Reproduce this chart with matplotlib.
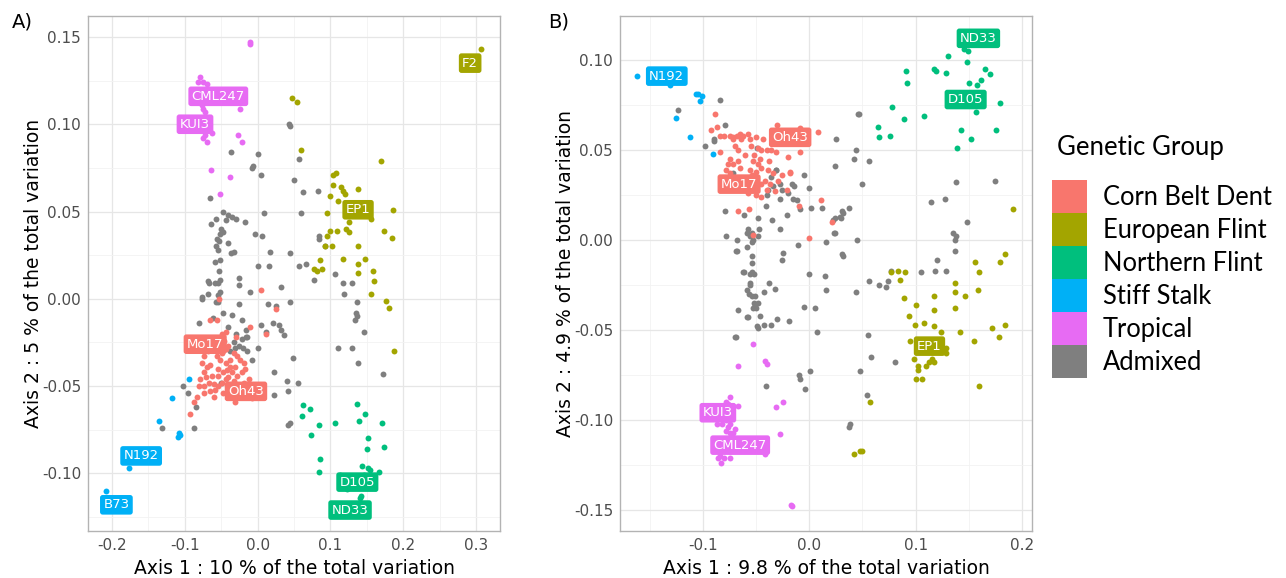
import matplotlib
matplotlib.use("Agg")
import matplotlib.pyplot as plt
from matplotlib.patches import Patch
import numpy as np

groups = ["Corn Belt Dent", "European Flint", "Northern Flint", "Stiff Stalk", "Tropical", "Admixed"]
colors = ["#F8766D", "#A3A500", "#00BF7D", "#00B0F6", "#E76BF3", "#7F7F7F"]

# ---------------- panel A data ----------------
a_cbd = [(0.005, 0.005), (0.025, -0.006), (-0.053, 0.000), (-0.066, -0.012), (-0.056, -0.012),
         (-0.010, -0.016), (0.012, -0.020), (-0.049, -0.020), (-0.044, -0.019),
         (-0.074, -0.033), (-0.077, -0.037), (-0.070, -0.039), (-0.065, -0.038), (-0.074, -0.042),
         (-0.079, -0.046), (-0.071, -0.045), (-0.067, -0.048), (-0.081, -0.050), (-0.074, -0.050),
         (-0.060, -0.049), (-0.065, -0.053), (-0.058, -0.052), (-0.054, -0.050), (-0.049, -0.048),
         (-0.054, -0.044), (-0.047, -0.042), (-0.042, -0.041), (-0.038, -0.039), (-0.044, -0.037),
         (-0.051, -0.035), (-0.056, -0.033), (-0.049, -0.031), (-0.044, -0.029), (-0.040, -0.027),
         (-0.033, -0.031), (-0.028, -0.033), (-0.024, -0.035), (-0.019, -0.037), (-0.031, -0.039),
         (-0.035, -0.042), (-0.028, -0.044), (-0.022, -0.042), (-0.040, -0.045), (-0.044, -0.046),
         (-0.033, -0.047), (-0.028, -0.050), (-0.019, -0.048), (-0.012, -0.046), (-0.005, -0.050),
         (-0.008, -0.057), (-0.031, -0.059), (-0.083, -0.056), (-0.088, -0.059), (-0.093, -0.066),
         (-0.038, -0.035), (-0.074, -0.054), (-0.060, -0.056), (-0.046, -0.024), (-0.052, -0.026),
         (-0.036, -0.052), (-0.016, -0.053), (-0.002, -0.054), (-0.024, -0.055), (-0.062, -0.044),
         (-0.055, -0.040), (-0.048, -0.054), (-0.068, -0.030), (-0.030, -0.022), (-0.017, -0.040)]
a_european = [(0.307, 0.143), (0.047, 0.115), (0.054, 0.113), (0.060, 0.085), (0.170, 0.079),
              (0.104, 0.071), (0.108, 0.072), (0.104, 0.065), (0.115, 0.064), (0.118, 0.062),
              (0.120, 0.060), (0.138, 0.063), (0.100, 0.059), (0.110, 0.056), (0.096, 0.049),
              (0.186, 0.051), (0.156, 0.046), (0.126, 0.044), (0.099, 0.039), (0.096, 0.036),
              (0.109, 0.039), (0.122, 0.040), (0.126, 0.038), (0.174, 0.039), (0.185, 0.035),
              (0.093, 0.030), (0.102, 0.030), (0.138, 0.030), (0.118, 0.023), (0.148, 0.023),
              (0.138, 0.020), (0.138, 0.015), (0.158, 0.016), (0.160, 0.010), (0.156, 0.003),
              (0.177, -0.001), (0.181, -0.005), (0.188, -0.030), (0.077, 0.017), (0.081, 0.016),
              (0.088, 0.017), (0.086, 0.022)]
a_northern = [(0.063, -0.061), (0.072, -0.063), (0.061, -0.067), (0.085, -0.072), (0.074, -0.078),
              (0.107, -0.071), (0.136, -0.060), (0.148, -0.066), (0.139, -0.070), (0.171, -0.071),
              (0.151, -0.080), (0.150, -0.086), (0.174, -0.085), (0.086, -0.092), (0.085, -0.099),
              (0.144, -0.096), (0.152, -0.097), (0.155, -0.098), (0.167, -0.099), (0.113, -0.101),
              (0.123, -0.109), (0.140, -0.114), (0.142, -0.113), (0.130, -0.104), (0.146, -0.101)]
a_stiff = [(-0.094, -0.046), (-0.117, -0.057), (-0.135, -0.070), (-0.108, -0.077), (-0.107, -0.078),
           (-0.110, -0.079), (-0.177, -0.097), (-0.208, -0.110)]
a_tropical = [(-0.010, 0.147), (-0.010, 0.146), (-0.079, 0.127), (-0.075, 0.124), (-0.070, 0.123),
              (-0.082, 0.124), (-0.024, 0.109), (-0.075, 0.109), (-0.072, 0.107), (-0.077, 0.111),
              (-0.072, 0.094), (-0.069, 0.090), (-0.075, 0.092), (-0.063, 0.095), (-0.027, 0.094),
              (-0.021, 0.090), (-0.064, 0.074), (-0.038, 0.070), (-0.052, 0.060)]
a_admixed = [(0.043, 0.100), (0.044, 0.099), (-0.037, 0.084), (0.000, 0.083), (-0.006, 0.076),
             (-0.008, 0.075), (0.004, 0.071), (0.057, 0.080), (0.050, 0.068), (0.062, 0.061),
             (0.083, 0.062), (-0.066, 0.058), (0.009, 0.049), (0.059, 0.049), (-0.047, 0.050),
             (-0.041, 0.048), (-0.035, 0.047), (-0.029, 0.046), (-0.017, 0.044), (-0.064, 0.043),
             (-0.057, 0.046), (-0.044, 0.045), (-0.050, 0.040), (-0.048, 0.038), (-0.051, 0.037),
             (-0.056, 0.034), (-0.053, 0.033), (-0.057, 0.030), (-0.040, 0.032), (-0.033, 0.027),
             (-0.036, 0.026), (-0.055, 0.028), (-0.058, 0.021), (-0.051, 0.022), (-0.053, 0.016),
             (-0.052, 0.011), (-0.067, 0.009), (-0.058, 0.009), (-0.051, 0.004), (-0.054, 0.002),
             (-0.068, 0.003), (-0.077, 0.001), (-0.057, -0.002), (-0.055, -0.002), (-0.047, -0.008),
             (-0.035, -0.009), (-0.026, -0.003), (-0.022, -0.012), (-0.041, -0.016), (-0.061, -0.011),
             (-0.080, -0.014), (-0.025, 0.012), (-0.025, 0.008), (-0.011, 0.004), (-0.003, 0.037),
             (0.006, 0.036), (0.017, 0.027), (0.045, 0.026), (0.001, 0.019), (0.016, 0.019),
             (0.057, 0.019), (0.066, 0.020), (0.107, 0.014), (0.078, 0.011), (0.032, 0.007),
             (0.045, -0.002), (0.014, -0.003), (0.025, -0.004), (0.004, -0.015), (0.021, -0.014),
             (0.029, -0.015), (0.032, -0.018), (0.036, -0.021), (0.011, -0.019), (0.000, -0.028),
             (-0.008, -0.035), (-0.016, -0.022), (-0.022, -0.023), (-0.025, -0.027), (-0.031, -0.028),
             (-0.033, -0.025), (-0.015, -0.030), (0.049, -0.034), (0.023, -0.042), (0.040, -0.047),
             (0.055, -0.048), (0.042, -0.053), (0.023, -0.055), (-0.050, -0.048), (-0.103, -0.050),
             (-0.095, -0.054), (-0.084, -0.062), (0.111, -0.028), (0.084, 0.036), (0.085, 0.034),
             (0.093, 0.030), (0.117, 0.009), (0.119, 0.003), (0.129, 0.009), (0.136, -0.002),
             (0.135, -0.008), (0.137, -0.010), (0.134, -0.012), (0.146, -0.019), (0.129, -0.028),
             (0.138, -0.037), (0.172, -0.043), (0.042, -0.072), (0.045, -0.071), (-0.016, -0.018),
             (-0.015, -0.022), (-0.131, -0.074), (-0.087, -0.074), (-0.076, 0.000), (-0.068, 0.010),
             (-0.054, 0.009), (-0.030, -0.020), (-0.020, -0.028), (-0.038, -0.030)]
a_names = ["F2", "CML247", "KUI3", "EP1", "Mo17", "Oh43", "N192", "B73", "D105", "ND33"]
a_name_x = [0.292, -0.054, -0.086, 0.138, -0.072, -0.016, -0.160, -0.194, 0.137, 0.127]
a_name_y = [0.135, 0.116, 0.100, 0.051, -0.026, -0.053, -0.090, -0.118, -0.105, -0.121]
a_name_grp = [1, 4, 4, 1, 0, 0, 3, 3, 2, 2]

# ---------------- panel B data ----------------
b_cbd = [(-0.089, 0.070), (-0.087, 0.063), (-0.092, 0.061), (-0.084, 0.058), (-0.080, 0.058),
         (-0.075, 0.058), (-0.072, 0.057), (-0.068, 0.058), (-0.065, 0.059), (-0.062, 0.058),
         (-0.058, 0.059), (-0.056, 0.056), (-0.050, 0.057), (-0.044, 0.056), (-0.072, 0.056),
         (-0.064, 0.056), (-0.084, 0.049), (-0.067, 0.050), (-0.048, 0.051), (-0.045, 0.050),
         (-0.040, 0.050), (-0.036, 0.050), (-0.031, 0.049), (-0.030, 0.064), (-0.009, 0.062),
         (0.008, 0.060), (-0.009, 0.049), (-0.020, 0.046), (-0.075, 0.045), (-0.076, 0.042),
         (-0.072, 0.042), (-0.067, 0.044), (-0.065, 0.040), (-0.053, 0.044), (-0.046, 0.045),
         (-0.048, 0.042), (-0.045, 0.040), (-0.056, 0.039), (-0.054, 0.036), (-0.050, 0.038),
         (-0.039, 0.039), (-0.034, 0.037), (-0.026, 0.036), (-0.018, 0.037), (-0.029, 0.033),
         (-0.037, 0.031), (-0.045, 0.031), (-0.040, 0.028), (-0.050, 0.025), (-0.045, 0.024),
         (-0.032, 0.027), (-0.021, 0.028), (-0.010, 0.019), (0.011, 0.022), (0.021, 0.010),
         (0.000, 0.001), (-0.067, 0.016), (-0.057, 0.017), (-0.053, 0.003), (-0.042, 0.033),
         (-0.075, 0.037), (-0.078, 0.039), (-0.018, 0.038), (-0.060, 0.047), (-0.055, 0.052),
         (-0.062, 0.030), (-0.058, 0.026), (-0.070, 0.052), (-0.052, 0.047), (-0.038, 0.044)]
b_european = [(0.192, 0.017), (0.184, -0.008), (0.156, -0.012), (0.179, -0.012), (0.160, -0.018),
              (0.077, -0.018), (0.083, -0.017), (0.090, -0.018), (0.085, -0.022), (0.137, -0.024),
              (0.137, -0.029), (0.146, -0.031), (0.159, -0.028), (0.117, -0.031), (0.089, -0.032),
              (0.100, -0.036), (0.117, -0.039), (0.137, -0.038), (0.094, -0.042), (0.099, -0.047),
              (0.108, -0.046), (0.117, -0.048), (0.124, -0.051), (0.142, -0.051), (0.172, -0.049),
              (0.184, -0.047), (0.178, -0.054), (0.155, -0.056), (0.095, -0.056), (0.129, -0.060),
              (0.129, -0.063), (0.098, -0.066), (0.115, -0.066), (0.113, -0.068), (0.110, -0.070),
              (0.117, -0.068), (0.102, -0.070), (0.102, -0.072), (0.100, -0.077), (0.106, -0.077),
              (0.160, -0.081), (0.057, -0.090), (0.042, -0.119), (0.048, -0.117), (0.050, -0.117)]
b_northern = [(0.145, 0.106), (0.149, 0.105), (0.130, 0.102), (0.148, 0.099), (0.117, 0.095),
              (0.119, 0.094), (0.129, 0.093), (0.165, 0.095), (0.170, 0.092), (0.091, 0.094),
              (0.092, 0.087), (0.150, 0.087), (0.161, 0.089), (0.158, 0.086), (0.179, 0.076),
              (0.157, 0.071), (0.078, 0.074), (0.108, 0.069), (0.089, 0.067), (0.065, 0.063),
              (0.076, 0.058), (0.066, 0.057), (0.143, 0.061), (0.152, 0.056), (0.176, 0.061),
              (0.139, 0.051)]
b_stiff = [(-0.162, 0.091), (-0.131, 0.086), (-0.107, 0.081), (-0.105, 0.081), (-0.101, 0.080),
           (-0.103, 0.077), (-0.125, 0.068), (-0.112, 0.057), (-0.091, 0.048)]
b_tropical = [(-0.053, -0.058), (-0.067, -0.070), (-0.042, -0.067), (-0.040, -0.069), (-0.075, -0.087),
              (-0.078, -0.090), (-0.076, -0.091), (-0.067, -0.092), (-0.031, -0.093), (-0.025, -0.090),
              (-0.028, -0.108), (-0.078, -0.100), (-0.075, -0.102), (-0.076, -0.104), (-0.078, -0.106),
              (-0.075, -0.107), (-0.072, -0.107), (-0.082, -0.102), (-0.087, -0.102), (-0.070, -0.105),
              (-0.084, -0.120), (-0.083, -0.124), (-0.080, -0.121), (-0.075, -0.121), (-0.086, -0.121),
              (-0.042, -0.119), (-0.017, -0.147), (-0.016, -0.148)]
b_admixed = [(-0.084, 0.078), (-0.079, 0.064), (-0.090, 0.055), (-0.098, 0.052), (0.047, 0.070),
             (0.046, 0.070), (0.025, 0.056), (0.044, 0.050), (0.042, 0.045), (0.056, 0.044),
             (0.024, 0.041), (0.050, 0.031), (-0.005, 0.036), (0.000, 0.029), (-0.016, 0.031),
             (-0.014, 0.030), (-0.020, 0.026), (-0.015, 0.023), (-0.012, 0.022), (-0.031, 0.039),
             (-0.036, 0.035), (-0.028, 0.031), (-0.034, 0.030), (-0.039, 0.028), (-0.040, 0.025),
             (-0.026, 0.028), (-0.072, 0.037), (-0.028, 0.023), (-0.079, 0.016), (-0.061, 0.014),
             (-0.041, 0.019), (-0.048, 0.012), (-0.035, 0.011), (-0.021, 0.014), (-0.009, 0.017),
             (0.002, 0.018), (0.012, 0.018), (0.022, 0.011), (0.030, 0.012), (0.032, 0.015),
             (0.037, 0.018), (-0.028, 0.006), (-0.047, 0.006), (-0.058, 0.006), (-0.059, 0.004),
             (-0.054, 0.004), (-0.056, 0.002), (-0.048, 0.002), (-0.053, 0.000), (-0.054, -0.001),
             (-0.078, 0.002), (-0.068, 0.000), (-0.068, -0.006), (-0.059, -0.004), (-0.054, -0.009),
             (-0.054, -0.013), (-0.025, -0.007), (-0.026, -0.011), (-0.011, -0.003), (0.023, 0.004),
             (0.016, -0.001), (0.045, 0.000), (0.032, -0.009), (0.056, -0.023), (0.000, -0.019),
             (0.015, -0.020), (0.016, -0.028), (0.044, -0.029), (-0.061, -0.018), (-0.054, -0.018),
             (-0.052, -0.019), (-0.038, -0.024), (-0.056, -0.024), (-0.059, -0.028), (-0.057, -0.030),
             (-0.051, -0.031), (-0.043, -0.029), (-0.032, -0.027), (-0.048, -0.035), (-0.051, -0.036),
             (-0.053, -0.038), (-0.067, -0.039), (-0.058, -0.043), (-0.046, -0.042), (-0.036, -0.047),
             (-0.043, -0.047), (-0.048, -0.049), (-0.030, -0.044), (-0.019, -0.045), (-0.005, -0.037),
             (0.005, -0.038), (0.007, -0.051), (-0.069, -0.054), (0.055, -0.053), (-0.010, -0.075),
             (-0.009, -0.077), (0.001, -0.073), (0.048, -0.073), (0.138, 0.032), (0.175, 0.033),
             (0.114, 0.021), (0.128, 0.023), (0.148, 0.010), (0.135, 0.004), (0.138, 0.002),
             (0.137, 0.000), (0.137, -0.006), (0.120, -0.011), (0.024, 0.004), (0.031, -0.008),
             (0.024, 0.012), (0.029, 0.013), (0.031, 0.016), (0.066, -0.025), (0.072, -0.026),
             (0.074, -0.023), (0.077, -0.017), (0.105, -0.018), (0.118, -0.017), (0.129, -0.017),
             (0.058, -0.065), (0.081, -0.068), (-0.004, -0.083), (0.054, -0.086), (0.038, -0.102),
             (0.037, -0.104), (-0.123, 0.072), (-0.090, 0.056), (-0.049, 0.051), (-0.031, 0.039),
             (-0.069, -0.006), (-0.062, -0.018), (-0.056, -0.019), (-0.056, -0.025), (-0.054, -0.031),
             (-0.052, -0.035), (-0.050, -0.038), (-0.059, -0.043), (-0.049, -0.048), (-0.070, -0.054),
             (-0.041, -0.081)]
b_names = ["N192", "ND33", "D105", "Oh43", "Mo17", "EP1", "KUI3", "CML247"]
b_name_x = [-0.134, 0.159, 0.147, -0.018, -0.066, 0.113, -0.086, -0.065]
b_name_y = [0.091, 0.112, 0.078, 0.057, 0.031, -0.059, -0.096, -0.114]
b_name_grp = [3, 2, 2, 0, 0, 1, 4, 4]

plt.rcParams['font.family'] = ['DejaVu Sans']
plt.rcParams['axes.unicode_minus'] = False
fig = plt.figure(figsize=(12.86, 5.78), dpi=100)


def draw(ax, sets, names, nx, ny, ngrp, xlim, ylim, xticks, yticks, xlab, ylab):
    # admixed drawn first
    order = [5, 0, 1, 2, 3, 4]
    for k in order:
        pts = np.array(sets[k])
        ax.scatter(pts[:, 0], pts[:, 1], s=18, color=colors[k], linewidths=0, zorder=3)
    for name, x, y, g in zip(names, nx, ny, ngrp):
        ax.text(x, y, name, color="white", fontsize=9.5, ha="center", va="center", zorder=5,
                bbox=dict(boxstyle="round,pad=0.25,rounding_size=0.2", fc=colors[g], ec="none"))
    ax.set_xticks(xticks)
    ax.set_yticks(yticks)
    dx = xticks[1] - xticks[0]
    dy = yticks[1] - yticks[0]
    ax.set_xticks([t + dx / 2 for t in xticks[:-1]] + [xticks[0] - dx / 2, xticks[-1] + dx / 2], minor=True)
    ax.set_yticks([t + dy / 2 for t in yticks[:-1]] + [yticks[0] - dy / 2, yticks[-1] + dy / 2], minor=True)
    ax.set_xticklabels([f"{t:.1f}" for t in xticks])
    ax.set_yticklabels([f"{t:.2f}" for t in yticks])
    ax.set_xlim(xlim)
    ax.set_ylim(ylim)
    ax.grid(which="major", color="#E6E6E6", lw=0.9, zorder=0)
    ax.grid(which="minor", color="#F2F2F2", lw=0.6, zorder=0)
    ax.set_axisbelow(True)
    ax.tick_params(which="both", length=0, labelsize=11, labelcolor="#4D4D4D", pad=5)
    for sp in ax.spines.values():
        sp.set_color("#B3B3B3")
        sp.set_linewidth(1.0)
    ax.set_xlabel(xlab, fontsize=13.5, color="black", labelpad=4)
    ax.set_ylabel(ylab, fontsize=13.5, color="black", labelpad=-1)


axA = fig.add_axes([88 / 1286, 47 / 578, 412 / 1286, 515 / 578])
draw(axA, [a_cbd, a_european, a_northern, a_stiff, a_tropical, a_admixed],
     a_names, a_name_x, a_name_y, a_name_grp,
     (-0.233, 0.333), (-0.133, 0.162), [-0.2, -0.1, 0.0, 0.1, 0.2, 0.3],
     [-0.10, -0.05, 0.00, 0.05, 0.10, 0.15],
     "Axis 1 : 10 % of the total variation", "Axis 2 : 5 % of the total variation")

axB = fig.add_axes([620 / 1286, 47 / 578, 412 / 1286, 515 / 578])
draw(axB, [b_cbd, b_european, b_northern, b_stiff, b_tropical, b_admixed],
     b_names, b_name_x, b_name_y, b_name_grp,
     (-0.178, 0.2094), (-0.1617, 0.1244), [-0.1, 0.0, 0.1, 0.2],
     [-0.15, -0.10, -0.05, 0.00, 0.05, 0.10],
     "Axis 1 : 9.8 % of the total variation", "Axis 2 : 4.9 % of the total variation")

fig.text(12 / 1286, 1 - 22 / 578, "A)", fontsize=14, va="center", ha="left")
fig.text(548 / 1286, 1 - 22 / 578, "B)", fontsize=14, va="center", ha="left")

# legend
fig.text(1057 / 1286, 1 - 148 / 578, "Genetic Group", fontsize=18.5, family="Lato",
         va="center", ha="left")
handles = [Patch(facecolor=c, edgecolor="none") for c in colors]
leg = fig.legend(handles, groups, loc="upper left", bbox_to_anchor=(1052 / 1286, 1 - 180 / 578),
                 frameon=False, fontsize=18.4, handlelength=1.35, handleheight=1.61,
                 labelspacing=0.0, handletextpad=0.63, borderaxespad=0, borderpad=0)
for t in leg.get_texts():
    t.set_fontfamily("Lato")

fig.savefig("out.png", dpi=100)
